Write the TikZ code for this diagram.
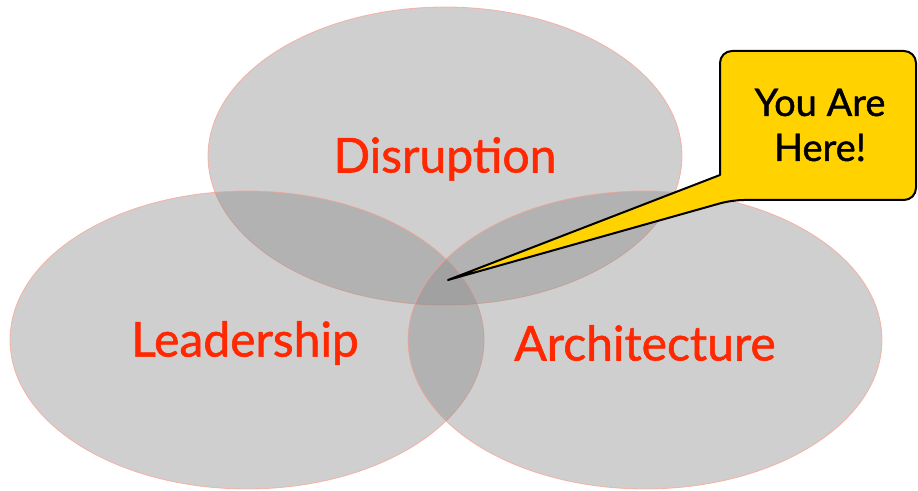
\documentclass[tikz,border=0pt]{standalone}
\usepackage{fontspec}
\setmainfont{Lato}
\newfontfamily\heavylato[FakeBold=1.2]{Lato}
\usetikzlibrary{shapes.geometric}
\definecolor{vennred}{RGB}{255,40,0}
\definecolor{venngray}{RGB}{135,135,135}
\definecolor{calloutyellow}{RGB}{255,210,0}
\begin{document}
\begin{tikzpicture}[x=1pt, y=1pt,
		venn/.style={ellipse, minimum width=474pt, minimum height=298pt, inner sep=0pt,
			fill=venngray, fill opacity=0.4, draw=vennred!45, draw opacity=0.7, line width=0.8pt},
		vennlabel/.style={text=vennred, font=\heavylato\fontsize{48}{56}\selectfont},
		herelabel/.style={align=center, font=\heavylato\fontsize{38}{45}\selectfont}]
		\useasboundingbox (0,0) rectangle (918,490);

		\node[venn] (disruption) at (445,334) {};
		\node[venn] (leadership) at (247,150) {};
		\node[venn] (architecture) at (645,150) {};

		\node[vennlabel] (dlabel) at (445,331) {Disruption};
		\node[vennlabel] (llabel) at (245,147) {Leadership};
		\node[vennlabel] (alabel) at (645,147) {Architecture};

		\coordinate (tip) at (448,210);
		\draw[fill=calloutyellow, line width=2pt, line join=round]
			(tip) -- (720,315) [rounded corners=12pt] -- (720,439) -- (916,439) -- (916,290) -- (732,290) [sharp corners] -- cycle;
		\node[herelabel] (here) at (820,365) {You Are\\Here!};
	\end{tikzpicture}
\end{document}
